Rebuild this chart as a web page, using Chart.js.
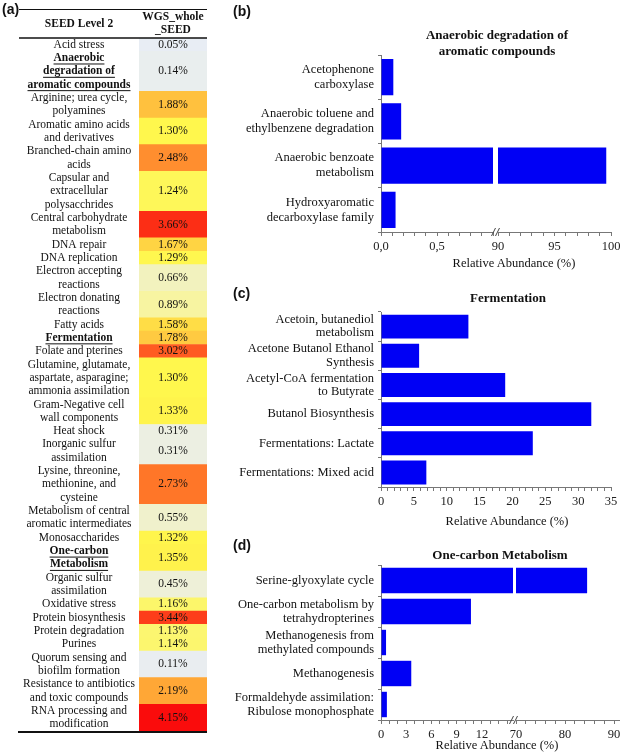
<!DOCTYPE html>
<html>
<head>
<meta charset="utf-8">
<script src="https://cdn.jsdelivr.net/npm/chart.js@4.4.1/dist/chart.umd.min.js"></script>
<style>
  body { margin: 0; background: #fff; }
  #page { position: relative; width: 620px; height: 755px; overflow: hidden; background: #fff; }
  canvas { position: absolute; }
  .txt { position: absolute; transform: translate(-50%, -50%); white-space: nowrap; text-align: center;
         font-family: 'Liberation Serif', 'Times New Roman', serif; font-size: 12.5px; line-height: 16px; color: #111; }
  .bold { font-weight: bold; font-size: 13px; }
  .tag { position: absolute; font-family: 'Liberation Sans', Arial, sans-serif; font-weight: bold; font-size: 14px; line-height: 16px; color: #111; }
</style>
</head>
<body>
<div id="page">
  <canvas id="tableChart" width="215" height="755" style="left:0;top:0"></canvas>
  <canvas id="aroLeft" width="276" height="250" style="left:220px;top:20px"></canvas>
  <canvas id="aroRight" width="140" height="250" style="left:480px;top:20px"></canvas>
  <canvas id="ferm" width="400" height="260" style="left:220px;top:280px"></canvas>
  <canvas id="oneLeft" width="296" height="215" style="left:220px;top:540px"></canvas>
  <canvas id="oneRight" width="120" height="215" style="left:500px;top:540px"></canvas>

  <div class="tag" style="left:2px;top:1px">(a)</div>
  <div class="tag" style="left:233px;top:3px">(b)</div>
  <div class="tag" style="left:233px;top:285px">(c)</div>
  <div class="tag" style="left:233px;top:537px">(d)</div>

  <div class="txt bold" style="left:497px;top:43px">Anaerobic degradation of<br>aromatic compounds</div>
  <div class="txt bold" style="left:508px;top:298px">Fermentation</div>
  <div class="txt bold" style="left:500px;top:555px">One-carbon Metabolism</div>

  <div class="txt" style="left:514px;top:263px">Relative Abundance (%)</div>
  <div class="txt" style="left:507px;top:521px">Relative Abundance (%)</div>
  <div class="txt" style="left:497px;top:745px">Relative Abundance (%)</div>
</div>

<script>
// (a) SEED level 2 table
const tableLabels = [
  'Acid stress',
  'Anaerobic\ndegradation of\naromatic compounds',
  'Arginine; urea cycle,\npolyamines',
  'Aromatic amino acids\nand derivatives',
  'Branched-chain amino\nacids',
  'Capsular and\nextracellular\npolysacchrides',
  'Central carbohydrate\nmetabolism',
  'DNA repair',
  'DNA replication',
  'Electron accepting\nreactions',
  'Electron donating\nreactions',
  'Fatty acids',
  'Fermentation',
  'Folate and pterines',
  'Glutamine, glutamate,\naspartate, asparagine;\nammonia assimilation',
  'Gram-Negative cell\nwall components',
  'Heat shock',
  'Inorganic sulfur\nassimilation',
  'Lysine, threonine,\nmethionine, and\ncysteine',
  'Metabolism of central\naromatic intermediates',
  'Monosaccharides',
  'One-carbon\nMetabolism',
  'Organic sulfur\nassimilation',
  'Oxidative stress',
  'Protein biosynthesis',
  'Protein degradation',
  'Purines',
  'Quorum sensing and\nbiofilm formation',
  'Resistance to antibiotics\nand toxic compounds',
  'RNA processing and\nmodification'
];
const tableValues = [0.05, 0.14, 1.88, 1.30, 2.48, 1.24, 3.66, 1.67, 1.29, 0.66, 0.89, 1.58, 1.78, 3.02, 1.30,
  1.33, 0.31, 0.31, 2.73, 0.55, 1.32, 1.35, 0.45, 1.16, 3.44, 1.13, 1.14, 0.11, 2.19, 4.15];
const boldRows = ['Anaerobic\ndegradation of\naromatic compounds', 'Fermentation', 'One-carbon\nMetabolism'];

// (b) anaerobic degradation of aromatic compounds
const aroLabels = [['Acetophenone', 'carboxylase'], ['Anaerobic toluene and', 'ethylbenzene degradation'],
  ['Anaerobic benzoate', 'metabolism'], ['Hydroxyaromatic', 'decarboxylase family']];
const aroValues = [0.11, 0.18, 99.58, 0.13];

// (c) fermentation
const fermLabels = [['Acetoin, butanediol', 'metabolism'], ['Acetone Butanol Ethanol', 'Synthesis'],
  ['Acetyl-CoA fermentation', 'to Butyrate'], 'Butanol Biosynthesis', 'Fermentations: Lactate', 'Fermentations: Mixed acid'];
const fermValues = [13.3, 5.8, 18.9, 32.0, 23.1, 6.9];

// (d) one-carbon metabolism
const oneLabels = ['Serine-glyoxylate cycle', ['One-carbon metabolism by', 'tetrahydropterines'],
  ['Methanogenesis from', 'methylated compounds'], 'Methanogenesis', ['Formaldehyde assimilation:', 'Ribulose monophosphate']];
const oneValues = [84.5, 10.7, 0.6, 3.6, 0.7];

Chart.defaults.font.family = "'Liberation Serif', 'Times New Roman', serif";
Chart.defaults.font.size = 12.5;
Chart.defaults.color = '#111';

// colour scale of the table
const heatStops = [
  [0.05, [232, 237, 244]], [0.45, [238, 240, 216]], [0.9, [247, 244, 160]], [1.3, [255, 247, 77]],
  [1.8, [255, 200, 64]], [2.5, [255, 140, 46]], [3.0, [255, 92, 34]], [4.15, [250, 12, 12]]
];
function heat(v) {
  for (let i = 1; i < heatStops.length; i++) {
    const [v0, c0] = heatStops[i - 1], [v1, c1] = heatStops[i];
    if (v <= v1 || i === heatStops.length - 1) {
      const t = Math.max(0, Math.min(1, (v - v0) / (v1 - v0)));
      return 'rgb(' + c0.map((c, k) => Math.round(c + (c1[k] - c) * t)).join(',') + ')';
    }
  }
}

const rowStarts = [];
let acc = 0;
tableLabels.forEach(l => { rowStarts.push(acc); acc += l.split('\n').length; });
const totalLines = acc;

const tableFont = '11.5px "Liberation Serif"';
const tableText = {
  id: 'tableText',
  afterDatasetsDraw(chart) {
    const ctx = chart.ctx;
    const area = chart.chartArea;
    const y = chart.scales.y;
    const lineH = Math.abs(y.getPixelForValue(1) - y.getPixelForValue(0));
    const labelX = 79;
    const valueX = (area.left + area.right) / 2;
    ctx.save();
    ctx.fillStyle = '#111';
    ctx.strokeStyle = '#111';
    ctx.textAlign = 'center';
    ctx.textBaseline = 'middle';

    ctx.font = 'bold ' + tableFont;
    ctx.fillText('SEED Level 2', labelX, area.top - 14);
    ctx.fillText('WGS_whole', valueX, area.top - 21);
    ctx.fillText('_SEED', valueX, area.top - 8);

    ctx.lineWidth = 1;
    ctx.beginPath(); ctx.moveTo(19, area.top - 28.5); ctx.lineTo(area.right, area.top - 28.5); ctx.stroke();
    ctx.lineWidth = 1.5;
    ctx.beginPath(); ctx.moveTo(19, area.top); ctx.lineTo(area.right, area.top); ctx.stroke();
    ctx.lineWidth = 2;
    ctx.beginPath(); ctx.moveTo(18, area.bottom + 1); ctx.lineTo(area.right, area.bottom + 1); ctx.stroke();

    tableLabels.forEach((label, i) => {
      const lines = label.split('\n');
      const top = y.getPixelForValue(rowStarts[i]);
      const bottom = y.getPixelForValue(rowStarts[i] + lines.length);
      const mid = (top + bottom) / 2;
      const bold = boldRows.includes(label);
      ctx.font = (bold ? 'bold ' : '') + tableFont;
      lines.forEach((ln, j) => {
        const ly = mid + (j - (lines.length - 1) / 2) * lineH;
        ctx.fillText(ln, labelX, ly);
        if (bold) {
          const w = ctx.measureText(ln).width;
          ctx.lineWidth = 1;
          ctx.beginPath(); ctx.moveTo(labelX - w / 2, ly + 6); ctx.lineTo(labelX + w / 2, ly + 6); ctx.stroke();
        }
      });
      ctx.font = tableFont;
      ctx.fillText(tableValues[i].toFixed(2) + '%', valueX, mid);
    });
    ctx.restore();
  }
};

new Chart(document.getElementById('tableChart'), {
  type: 'bar',
  data: {
    datasets: [{
      data: tableValues.map((v, i) => ({ x: 'value', y: [rowStarts[i], rowStarts[i] + tableLabels[i].split('\n').length] })),
      backgroundColor: tableValues.map(heat),
      categoryPercentage: 1,
      barPercentage: 1
    }]
  },
  options: {
    responsive: false,
    animation: false,
    layout: { padding: { left: 139, right: 8, top: 38, bottom: 24 } },
    plugins: { legend: { display: false }, tooltip: { enabled: false } },
    scales: {
      x: { type: 'category', labels: ['value'], display: false },
      y: { type: 'linear', min: 0, max: totalLines, reverse: true, display: false }
    }
  },
  plugins: [tableText]
});

const breakMarks = {
  id: 'breakMarks',
  afterDraw(chart) {
    const { ctx, chartArea } = chart;
    const x = chartArea.left - 2.5, y = chartArea.bottom;
    ctx.save();
    ctx.strokeStyle = '#444';
    ctx.lineWidth = 1;
    [-2, 2].forEach(d => {
      ctx.beginPath(); ctx.moveTo(x + d - 2, y + 4); ctx.lineTo(x + d + 2, y - 4); ctx.stroke();
    });
    ctx.restore();
  }
};

function barChart(id, labels, values, o) {
  const yAxis = {
    display: o.showLabels,
    border: { color: '#777', width: 1 },
    grid: { drawOnChartArea: false, tickLength: 3, color: '#777', offset: true },
    ticks: { padding: 4, color: '#111', autoSkip: false, font: { lineHeight: o.lineHeight || 1.2 } }
  };
  if (o.showLabels) {
    yAxis.afterFit = s => { s.width = 161; s.paddingTop = 0; s.paddingBottom = 0; };
  }
  return new Chart(document.getElementById(id), {
    type: 'bar',
    data: {
      labels: labels,
      datasets: [{ data: values, backgroundColor: '#0000f5', clip: 0, barPercentage: 0.82, categoryPercentage: 1 }]
    },
    options: {
      indexAxis: 'y',
      responsive: false,
      animation: false,
      layout: { padding: o.padding },
      plugins: { legend: { display: false }, tooltip: { enabled: false } },
      scales: {
        x: {
          type: 'linear', min: o.min, max: o.max,
          border: { color: '#777', width: 1 },
          grid: { drawOnChartArea: false, tickLength: 4, color: '#777' },
          ticks: { stepSize: o.step, includeBounds: false, autoSkip: false, maxRotation: 0, padding: 3,
                   color: '#222', callback: o.tickLabel },
          afterFit: s => { s.height = 22; s.paddingLeft = 0; s.paddingRight = 0; }
        },
        y: yAxis
      }
    },
    plugins: o.plugins || []
  });
}

const isMult = (v, m) => Math.abs(v / m - Math.round(v / m)) < 1e-6;

barChart('aroLeft', aroLabels, aroValues, {
  min: 0, max: 1, step: 0.1, showLabels: true,
  padding: { top: 35, right: 3, bottom: 16 },
  tickLabel: v => (isMult(v, 0.5) && v < 0.9) ? v.toFixed(1).replace('.', ',') : ''
});
barChart('aroRight', aroLabels, aroValues, {
  min: 90, max: 100, step: 1, showLabels: false,
  padding: { top: 35, left: 18, right: 9, bottom: 16 },
  tickLabel: v => isMult(v, 5) ? String(v) : '',
  plugins: [breakMarks]
});
barChart('ferm', fermLabels, fermValues, {
  min: 0, max: 35, step: 1, showLabels: true, lineHeight: 1.05,
  padding: { top: 32, right: 9, bottom: 31 },
  tickLabel: v => isMult(v, 5) ? String(v) : ''
});
barChart('oneLeft', oneLabels, oneValues, {
  min: 0, max: 15.7, step: 1, showLabels: true, lineHeight: 1.15,
  padding: { top: 25, right: 3, bottom: 13 },
  tickLabel: v => (isMult(v, 3) && v < 15) ? String(v) : ''
});
barChart('oneRight', oneLabels, oneValues, {
  min: 70, max: 91, step: 2, showLabels: false,
  padding: { top: 25, left: 16, right: 1, bottom: 13 },
  tickLabel: v => isMult(v, 10) ? String(v) : '',
  plugins: [breakMarks]
});
</script>
</body>
</html>
